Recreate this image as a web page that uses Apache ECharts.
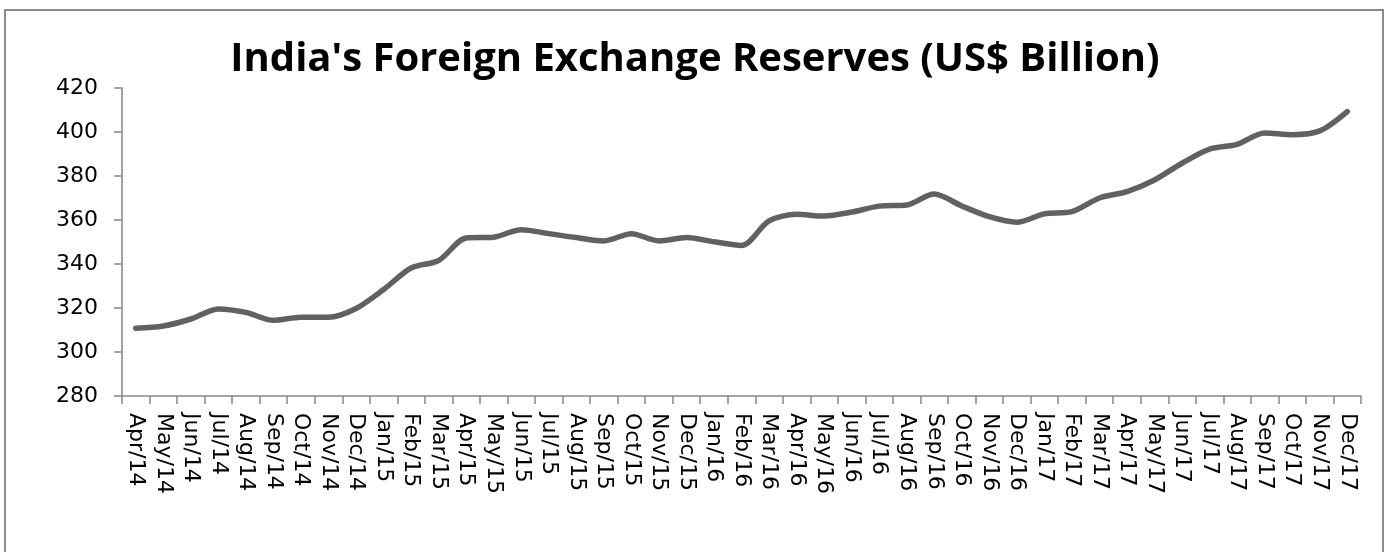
<!DOCTYPE html>
<html>
<head>
<meta charset="utf-8">
<script src="https://cdn.jsdelivr.net/npm/echarts@6/dist/echarts.min.js"></script>
<style>
    html, body { margin: 0; padding: 0; background: #fff; }
    #reserveChart { width: 1390px; height: 552px; }
</style>
</head>
<body>
<div id="reserveChart"></div>
<script>
let months = ['Apr/14', 'May/14', 'Jun/14', 'Jul/14', 'Aug/14', 'Sep/14', 'Oct/14', 'Nov/14', 'Dec/14',
    'Jan/15', 'Feb/15', 'Mar/15', 'Apr/15', 'May/15', 'Jun/15', 'Jul/15', 'Aug/15', 'Sep/15', 'Oct/15', 'Nov/15', 'Dec/15',
    'Jan/16', 'Feb/16', 'Mar/16', 'Apr/16', 'May/16', 'Jun/16', 'Jul/16', 'Aug/16', 'Sep/16', 'Oct/16', 'Nov/16', 'Dec/16',
    'Jan/17', 'Feb/17', 'Mar/17', 'Apr/17', 'May/17', 'Jun/17', 'Jul/17', 'Aug/17', 'Sep/17', 'Oct/17', 'Nov/17', 'Dec/17'];

// US$ billion
let reserves = [310.8, 311.8, 315.0, 319.6, 318.0, 314.4, 315.8, 315.8, 319.8,
    328.4, 338.2, 341.6, 351.8, 352.2, 355.6, 353.8, 352.0, 350.5, 353.8, 350.5, 352.0,
    350.1, 348.4, 359.6, 362.6, 361.8, 363.6, 366.3, 366.8, 371.8, 366.4, 361.5, 359.0,
    362.8, 363.8, 370.0, 372.9, 378.2, 385.8, 392.2, 394.4, 399.6, 398.8, 400.5, 409.3];

let yTicks = [280, 420, 20]; // min, max, step

let reserveChart = echarts.init(document.getElementById('reserveChart'));

let reserveOption = {
    animation: false,
    backgroundColor: '#fff',
    title: {
        text: "India's Foreign Exchange Reserves (US$ Billion)",
        left: 'center',
        top: 35,
        textStyle: {
            fontFamily: 'Open Sans',
            fontWeight: 'bold',
            fontSize: 40,
            color: '#000'
        }
    },
    graphic: [
        {
            type: 'rect',
            shape: {x: 5, y: 10, width: 1378, height: 560},
            style: {fill: 'none', stroke: '#8c8c8c', lineWidth: 2},
            silent: true
        }
    ],
    grid: {
        left: 122,
        right: 29,
        top: 88,
        bottom: 156
    },
    xAxis: {
        type: 'category',
        data: months,
        boundaryGap: true,
        axisLine: {lineStyle: {color: '#868686', width: 1.5}},
        axisTick: {show: true, interval: 0, length: 8, lineStyle: {color: '#868686', width: 1.5}},
        axisLabel: {
            interval: 0,
            rotate: -90,
            margin: 17,
            color: '#000',
            fontFamily: 'DejaVu Sans',
            fontSize: 22
        },
        splitLine: {show: false}
    },
    yAxis: {
        type: 'value',
        min: yTicks[0],
        max: yTicks[1],
        interval: yTicks[2],
        axisLine: {show: true, lineStyle: {color: '#868686', width: 1.5}},
        axisTick: {show: true, length: 8, lineStyle: {color: '#868686', width: 1.5}},
        axisLabel: {
            margin: 24,
            color: '#000',
            fontFamily: 'DejaVu Sans',
            fontSize: 22
        },
        splitLine: {show: false}
    },
    series: [
        {
            name: 'Reserves',
            type: 'line',
            data: reserves,
            smooth: 0.3,
            showSymbol: false,
            lineStyle: {
                color: '#616161',
                width: 5.5,
                cap: 'round'
            }
        }
    ]
};
reserveChart.setOption(reserveOption);

window.onresize = function () {
    reserveChart.resize();
};
</script>
</body>
</html>
